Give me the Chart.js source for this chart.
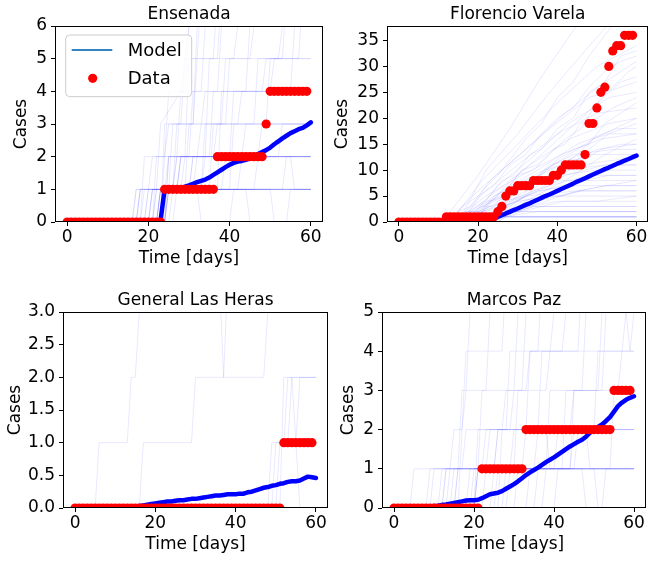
<!DOCTYPE html>
<html>
<head>
<meta charset="utf-8">
<script src="https://cdn.jsdelivr.net/npm/chart.js@4.4.0/dist/chart.umd.min.js"></script>
<style>
html,body{margin:0;padding:0;background:#ffffff;}
#wrap{position:relative;width:653px;height:561px;overflow:hidden;background:#ffffff;}
#wrap canvas{position:absolute;left:0;top:0;}
</style>
</head>
<body>
<div id="wrap">
<canvas id="c1" width="653" height="561"></canvas>
<canvas id="c2" width="653" height="561"></canvas>
<canvas id="c3" width="653" height="561"></canvas>
<canvas id="c4" width="653" height="561"></canvas>
</div>
<script>
// ---------------- DATA ----------------
const panelTitles = ['Ensenada', 'Florencio Varela', 'General Las Heras', 'Marcos Paz'];
const xTitle = 'Time [days]';
const yTitle = 'Cases';
const legendLabels = ['Model', 'Data'];

// model time axis (days 0..60)
const modelDays = [0,1,2,3,4,5,6,7,8,9,10,11,12,13,14,15,16,17,18,19,20,21,22,23,24,25,26,27,28,29,30,
  31,32,33,34,35,36,37,38,39,40,41,42,43,44,45,46,47,48,49,50,51,52,53,54,55,56,57,58,59,60];
// observed days (0..59)
const dataDays = [0,1,2,3,4,5,6,7,8,9,10,11,12,13,14,15,16,17,18,19,20,21,22,23,24,25,26,27,28,29,
  30,31,32,33,34,35,36,37,38,39,40,41,42,43,44,45,46,47,48,49,50,51,52,53,54,55,56,57,58,59];

const xTicks = [0, 20, 40, 60];
const xTickLabels = ['0', '20', '40', '60'];

// observed cumulative cases
const ensenadaData = [0,0,0,0,0,0,0,0,0,0,0,0,0,0,0,0,0,0,0,0,0,0,0,0,
  1,1,1,1,1,1,1,1,1,1,1,1,1, 2,2,2,2,2,2,2,2,2,2,2,2, 3, 4,4,4,4,4,4,4,4,4,4];
const florencioData = [0,0,0,0,0,0,0,0,0,0,0,0, 1,1,1,1,1,1,1,1,1,1,1,1,1,
  2,3,5,6,6,7,7,7,7,8,8,8,8,8,9,9,10,11,11,11,11,11,13,19,19,22,25,26,30,33,34,34,36,36,36];
const lasHerasData = [0,0,0,0,0,0,0,0,0,0,0,0,0,0,0,0,0,0,0,0,0,0,0,0,0,0,
  0,0,0,0,0,0,0,0,0,0,0,0,0,0,0,0,0,0,0,0,0,0,0,0,0,0, 1,1,1,1,1,1,1,1];
const marcosPazData = [0,0,0,0,0,0,0,0,0,0,0,0,0,0,0,0,0,0,0,0,0,0,
  1,1,1,1,1,1,1,1,1,1,1, 2,2,2,2,2,2,2,2,2,2,2,2,2,2,2,2,2,2,2,2,2,2, 3,3,3,3,3];

// model mean trajectories
const ensenadaModel = [0,0,0,0,0,0,0,0,0,0,0,0,0,0,0,0,0.01,0.01,0.02,0.02,0.03,0.03,0.04,0.05,
  1.0,1.01,1.02,1.03,1.05,1.08,1.12,1.17,1.22,1.26,1.30,1.36,1.44,1.52,1.60,1.68,1.75,1.81,1.85,1.87,
  1.90,1.95,2.01,2.08,2.14,2.20,2.28,2.38,2.47,2.56,2.64,2.72,2.78,2.84,2.88,2.96,3.05];
const florencioModel = [0,0,0,0,0,0,0,0,0,0,0,0,0.1,0.15,0.2,0.22,0.25,0.27,0.3,0.32,0.35,0.37,0.4,0.45,
  0.6,1.0,1.3,1.65,1.95,2.3,2.6,2.95,3.3,3.6,3.95,4.3,4.65,5.0,5.3,5.65,6.0,6.35,6.7,7.05,7.4,7.8,
  8.1,8.45,8.8,9.15,9.5,9.85,10.2,10.5,10.85,11.2,11.5,11.85,12.15,12.5,12.8];
const lasHerasModel = [0,0,0,0,0,0,0,0,0,0,0,0,0,0,
  0.01,0.02,0.03,0.04,0.05,0.06,0.07,0.08,0.09,0.1,
  0.1,0.11,0.12,0.12,0.13,0.14,0.14,0.15,0.16,0.17,
  0.18,0.19,0.19,0.2,0.21,0.21,0.21,0.22,0.22,0.24,
  0.25,0.27,0.29,0.31,0.32,0.34,0.35,0.37,0.38,0.4,
  0.41,0.41,0.42,0.45,0.48,0.47,0.46];
const marcosPazModel = [0,0,0,0,0,0,0,0,0,
  0.03,0.05,0.06,0.08,0.09,0.11,0.13,0.15,0.17,0.19,
  0.2,0.2,0.21,0.25,0.3,0.35,0.37,0.39,0.43,0.49,
  0.55,0.61,0.68,0.76,0.84,0.91,0.97,1.03,1.1,1.17,
  1.23,1.29,1.36,1.43,1.5,1.57,1.63,1.69,1.74,1.82,
  1.92,2.0,2.07,2.13,2.22,2.32,2.46,2.6,2.69,2.76,
  2.81,2.85];

// individual stochastic runs: [how many runs follow this path, [[day, cases], ...]]
const ensenadaRuns = [
  [8, [[0,0],[60,0]]],
  [5, [[0,0],[23,0],[24,1],[60,1]]],
  [3, [[0,0],[17,0],[18,1],[27,1],[28,2],[60,2]]],
  [1, [[0,0],[20,0],[21,1],[24,1],[25,2],[36,2],[37,3],[60,3]]],
  [2, [[0,0],[22,0],[23,1],[30,1],[31,2],[60,2]]],
  [1, [[0,0],[19,0],[20,1],[26,1],[27,3],[33,3],[34,4],[60,4]]],
  [1, [[0,0],[21,0],[22,2],[29,2],[30,5],[41,5],[42,6],[44,7]]],
  [1, [[0,0],[16,0],[17,1],[22,1],[23,3],[28,4],[30,6],[33,7]]],
  [1, [[0,0],[24,0],[25,1],[38,1],[39,2],[47,2],[48,3],[60,3]]],
  [1, [[0,0],[23,0],[24,1],[44,1],[45,0],[60,0]]],
  [1, [[0,0],[22,0],[23,1],[33,1],[34,2],[40,2],[41,4],[48,4],[49,5],[60,5]]],
  [1, [[0,0],[18,0],[19,1],[25,1],[26,3],[31,3],[32,5],[36,5],[37,7]]],
  [1, [[0,0],[24,0],[25,2],[35,2],[36,4],[44,4],[45,6],[46,7]]],
  [1, [[0,0],[23,0],[24,1],[31,1],[32,2],[52,2],[53,3],[60,3]]],
  [1, [[0,0],[20,0],[21,1],[29,1],[30,3],[39,3],[40,5],[52,5],[53,6],[54,7]]],
  [1, [[0,0],[24,0],[25,1],[46,1],[47,2],[55,2],[56,1],[60,1]]],
  [1, [[0,0],[21,0],[22,1],[37,1],[38,4],[50,4],[51,5],[57,5],[58,7]]],
  [1, [[0,0],[23,0],[24,2],[27,2],[28,4],[33,4],[34,6],[35,7]]],
  [1, [[0,0],[24,0],[25,1],[50,1],[51,0],[54,0],[55,1],[60,1]]],
  [1, [[0,0],[19,0],[20,1],[42,1],[43,2],[60,2]]],
  [1, [[0,0],[22,0],[23,1],[28,1],[29,2],[43,2],[44,3],[60,3]]],
  [1, [[0,0],[24,0],[25,1],[53,1],[54,2],[60,2]]],
  [1, [[0,0],[16,0],[17,1],[20,1],[21,2],[24,2],[25,3],[28,3],[29,5],[32,5],[33,7]]],
  [1, [[0,0],[22,0],[23,1],[26,1],[27,2],[32,2],[33,3],[38,3],[39,5],[45,5],[46,6],[47,7]]],
  [1, [[0,0],[18,0],[19,2],[24,2],[25,4],[29,4],[30,6],[31,7]]],
  [1, [[0,0],[23,0],[24,1],[35,1],[36,3],[42,3],[43,4],[55,4],[56,6],[57,7]]],
  [1, [[0,0],[25,0],[26,1],[33,1],[34,3],[46,3],[47,5],[60,5]]],
  [1, [[0,0],[20,0],[21,1],[32,1],[33,0],[40,0],[41,1],[60,1]]],
  [1, [[0,0],[24,0],[25,2],[30,2],[31,4],[37,4],[38,6],[39,7]]],
  [1, [[0,0],[21,0],[22,1],[26,1],[27,2],[34,2],[35,5],[37,5],[38,7]]],
  [1, [[0,0],[26,0],[27,1],[40,1],[41,3],[49,3],[50,5],[53,5],[54,7]]],
  [1, [[0,0],[23,0],[24,3],[31,3],[32,6],[33,7]]]
];
const florencioRuns = [
  [5, [[0,0],[60,0]]],
  [3, [[0,0],[12,0],[13,1],[60,1]]],
  [2, [[0,0],[25,0],[27,1],[60,1]]],
  [2, [[0,0],[14,0],[15,1],[26,1],[27,2],[60,2]]],
  [1, [[0,0],[23,0],[26,1],[35,2],[60,2]]],
  [2, [[0,0],[20,0],[22,1],[30,2],[34,3],[60,3]]],
  [1, [[0,0],[18,0],[25,2],[33,3],[40,4],[60,4]]],
  [1, [[0,0],[15,0],[22,2],[30,4],[38,5],[60,5]]],
  [1, [[0,0],[16,0],[24,3],[32,5],[45,6],[60,6]]],
  [1, [[0,0],[19,0],[27,3],[35,6],[44,7],[60,7]]],
  [1, [[0,0],[14,0],[23,3],[31,5],[40,8],[60,8]]],
  [1, [[0,0],[21,0],[29,4],[38,7],[48,9],[60,9]]],
  [1, [[0,0],[13,0],[21,3],[30,6],[41,9],[50,10],[60,10]]],
  [1, [[0,0],[17,0],[25,4],[33,7],[42,10],[52,11],[60,11]]],
  [1, [[0,0],[20,0],[28,3],[37,8],[46,11],[55,12],[60,12]]],
  [1, [[0,0],[12,0],[20,3],[28,6],[38,10],[48,13],[60,13]]],
  [1, [[0,0],[16,0],[24,5],[34,9],[44,13],[54,14],[60,14]]],
  [1, [[0,0],[22,0],[30,5],[40,10],[50,14],[60,15]]],
  [1, [[0,0],[13,0],[22,5],[31,9],[41,13],[51,16],[60,17]]],
  [1, [[0,0],[18,0],[26,6],[35,10],[45,15],[55,18],[60,18]]],
  [1, [[0,0],[15,0],[23,5],[33,11],[43,16],[53,19],[60,20]]],
  [1, [[0,0],[14,0],[22,6],[30,11],[40,17],[50,21],[60,22]]],
  [1, [[0,0],[17,0],[25,7],[33,12],[43,19],[53,24],[60,25]]],
  [1, [[0,0],[12,0],[20,6],[29,12],[38,18],[48,24],[60,27]]],
  [1, [[0,0],[16,0],[23,8],[32,14],[42,21],[52,27],[60,31]]],
  [1, [[0,0],[13,0],[21,8],[30,15],[40,23],[50,30],[60,34]]],
  [1, [[0,0],[15,0],[22,10],[30,17],[38,25],[47,33],[55,40]]],
  [1, [[0,0],[19,0],[27,7],[36,13],[46,20],[56,27],[60,28]]],
  [1, [[0,0],[11,0],[20,9],[28,18],[36,28],[45,38]]],
  [1, [[0,0],[21,0],[29,6],[39,11],[49,16],[60,20]]],
  [1, [[0,0],[24,0],[32,4],[42,8],[52,13],[60,16]]],
  [1, [[0,0],[23,0],[33,3],[45,6],[60,8]]],
  [1, [[0,0],[13,0],[16,1],[19,3],[22,4],[26,8],[29,9],[33,13],[36,14],[40,18],[44,20],[48,25],[52,27],[56,32],[60,33]]],
  [1, [[0,0],[15,0],[18,2],[21,2],[24,5],[27,6],[31,10],[35,11],[39,14],[42,15],[46,19],[50,20],[54,22],[60,24]]],
  [1, [[0,0],[17,0],[20,1],[24,2],[27,4],[31,5],[35,8],[39,9],[43,12],[47,12],[51,14],[56,15],[60,15]]],
  [1, [[0,0],[12,0],[15,2],[18,3],[21,6],[25,9],[28,12],[32,16],[36,19],[40,24],[44,27],[48,32],[52,36],[55,39]]],
  [1, [[0,0],[19,0],[22,1],[26,3],[30,4],[34,6],[38,7],[42,9],[47,10],[52,11],[60,11]]],
  [1, [[0,0],[14,0],[17,2],[20,2],[23,4],[27,5],[30,7],[34,8],[38,11],[43,12],[48,14],[53,17],[60,19]]],
  [1, [[0,0],[21,0],[24,2],[28,3],[32,5],[36,6],[41,7],[47,8],[53,9],[60,9]]],
  [1, [[0,0],[16,0],[19,1],[23,4],[26,5],[30,9],[34,10],[38,13],[42,16],[46,18],[50,23],[54,26],[58,29],[60,30]]],
  [1, [[0,0],[18,0],[21,2],[25,3],[29,6],[33,7],[37,10],[41,11],[45,13],[49,16],[53,17],[60,17]]],
  [1, [[0,0],[22,0],[26,2],[30,3],[35,4],[40,5],[46,6],[60,6]]],
  [1, [[0,0],[13,0],[16,3],[20,5],[24,7],[28,11],[32,13],[36,17],[40,20],[44,22],[48,26],[52,29],[56,31],[60,32]]],
  [1, [[0,0],[20,0],[23,1],[27,2],[31,4],[36,5],[41,5],[46,6],[52,7],[60,7]]],
  [1, [[0,0],[24,0],[27,1],[31,2],[36,3],[42,4],[50,4],[60,5]]],
  [1, [[0,0],[17,0],[21,3],[24,3],[28,6],[32,8],[36,9],[40,12],[44,14],[48,15],[52,19],[56,21],[60,23]]]
];
const lasHerasRuns = [
  [12, [[0,0],[60,0]]],
  [1, [[0,0],[5,0],[6,1],[13,1],[14,2],[15,2],[16,3],[17,3.5],[36,3.5],[37,2],[38,3.5],[60,3.5]]],
  [1, [[0,0],[16,0],[17,1],[29,1],[30,2],[47,2],[48,3],[49,4]]],
  [1, [[0,0],[48,0],[49,1],[52,1],[53,2],[60,2]]],
  [1, [[0,0],[50,0],[51,1],[53,1],[54,2],[55,1],[56,2],[60,2]]],
  [1, [[0,0],[49,0],[50,1],[55,1],[56,0],[60,0]]],
  [1, [[0,0],[51,0],[52,2],[60,2]]]
];
const marcosPazRuns = [
  [7, [[0,0],[60,0]]],
  [3, [[0,0],[20,0],[21,1],[60,1]]],
  [2, [[0,0],[12,0],[13,1],[60,1]]],
  [1, [[0,0],[4,0],[5,1],[14,1],[15,2],[17,2],[18,3],[19,5],[20,6]]],
  [1, [[0,0],[9,0],[10,1],[17,1],[18,2],[29,2],[30,3],[33,3],[34,4],[42,4],[43,5],[44,6]]],
  [2, [[0,0],[15,0],[16,1],[25,1],[26,2],[60,2]]],
  [1, [[0,0],[16,0],[17,2],[18,4],[27,4],[28,6]]],
  [1, [[0,0],[18,0],[19,1],[30,1],[31,3],[38,3],[39,4],[60,4]]],
  [1, [[0,0],[22,0],[23,1],[35,1],[36,2],[44,2],[45,3],[51,3],[52,5],[53,6]]],
  [1, [[0,0],[24,0],[25,1],[40,1],[41,2],[48,2],[49,1],[60,1]]],
  [1, [[0,0],[26,0],[27,2],[36,2],[37,4],[46,4],[47,6]]],
  [1, [[0,0],[28,0],[29,1],[47,1],[48,0],[52,0],[53,1],[60,1]]],
  [1, [[0,0],[30,0],[31,1],[38,1],[39,3],[56,3],[57,4],[58,5],[59,4],[60,5]]],
  [1, [[0,0],[33,0],[34,1],[45,1],[46,2],[60,2]]],
  [1, [[0,0],[19,0],[20,1],[23,1],[24,2],[33,2],[34,4],[39,4],[40,5],[41,6]]],
  [1, [[0,0],[35,0],[36,1],[54,1],[55,3],[60,3]]],
  [1, [[0,0],[14,0],[15,1],[21,1],[22,3],[32,3],[33,5],[34,6]]],
  [1, [[0,0],[40,0],[41,1],[50,1],[51,0],[60,0]]],
  [1, [[0,0],[11,0],[12,1],[16,1],[17,3],[23,3],[24,5],[25,6]]],
  [1, [[0,0],[20,0],[21,2],[28,2],[29,4],[36,4],[37,6]]],
  [1, [[0,0],[25,0],[26,1],[32,1],[33,2],[50,2],[51,4],[60,4]]],
  [1, [[0,0],[27,0],[28,1],[42,1],[43,3],[47,3],[48,5],[49,6]]],
  [1, [[0,0],[13,0],[14,1],[29,1],[30,2],[38,2],[39,1],[44,1],[45,2],[60,2]]],
  [1, [[0,0],[37,0],[38,1],[44,1],[45,3],[52,3],[53,5],[54,6]]],
  [1, [[0,0],[8,0],[9,1],[22,1],[23,2],[27,2],[28,3],[30,3],[31,5],[32,6]]]
];

// y axis ticks
const ensenadaYTicks = [0,1,2,3,4,5,6];
const ensenadaYLabels = ['0','1','2','3','4','5','6'];
const florencioYTicks = [0,5,10,15,20,25,30,35];
const florencioYLabels = ['0','5','10','15','20','25','30','35'];
const lasHerasYTicks = [0,0.5,1,1.5,2,2.5,3];
const lasHerasYLabels = ['0.0','0.5','1.0','1.5','2.0','2.5','3.0'];
const marcosPazYTicks = [0,1,2,3,4,5];
const marcosPazYLabels = ['0','1','2','3','4','5'];
const yMaxes = [6, 37.8, 3, 5];

// ---------------- RENDERING ----------------
const FONT = 'DejaVu Sans';
Chart.defaults.font.family = FONT;
Chart.defaults.color = '#000000';

const W = 653, H = 561;

const framePlugin = {
  id: 'frame',
  afterDatasetsDraw(chart) {
    const a = chart.chartArea, ctx = chart.ctx;
    ctx.save();
    ctx.strokeStyle = '#000000';
    ctx.lineWidth = 1;
    ctx.strokeRect(Math.round(a.left) + 0.5, Math.round(a.top) + 0.5,
      Math.round(a.right) - Math.round(a.left) - 1, Math.round(a.bottom) - Math.round(a.top) - 1);
    ctx.restore();
  }
};

const boxLegendPlugin = {
  id: 'boxLegend',
  afterDatasetsDraw(chart, args, opts) {
    if (!opts || !opts.show) return;
    const a = chart.chartArea, ctx = chart.ctx;
    const x = a.left + 10.7, y = a.top + 9, w = 126, h = 61.7, r = 4;
    ctx.save();
    ctx.beginPath();
    ctx.moveTo(x + r, y);
    ctx.lineTo(x + w - r, y); ctx.arcTo(x + w, y, x + w, y + r, r);
    ctx.lineTo(x + w, y + h - r); ctx.arcTo(x + w, y + h, x + w - r, y + h, r);
    ctx.lineTo(x + r, y + h); ctx.arcTo(x, y + h, x, y + h - r, r);
    ctx.lineTo(x, y + r); ctx.arcTo(x, y, x + r, y, r);
    ctx.closePath();
    ctx.fillStyle = 'rgba(255,255,255,0.8)';
    ctx.fill();
    ctx.strokeStyle = '#cccccc';
    ctx.lineWidth = 1;
    ctx.stroke();
    ctx.strokeStyle = 'rgb(52,132,196)';
    ctx.lineWidth = 2.2;
    ctx.beginPath();
    ctx.moveTo(x + 6, y + 15); ctx.lineTo(x + 46.6, y + 15);
    ctx.stroke();
    ctx.fillStyle = '#ff0000';
    ctx.beginPath();
    ctx.arc(x + 27, y + 43.3, 4.6, 0, Math.PI * 2);
    ctx.fill();
    ctx.fillStyle = '#000000';
    ctx.font = '18px "' + FONT + '"';
    ctx.textBaseline = 'middle';
    ctx.textAlign = 'left';
    ctx.fillText(opts.labels[0], x + 62, y + 16);
    ctx.fillText(opts.labels[1], x + 62, y + 44.3);
    ctx.restore();
  }
};

function makePanel(canvasId, cfg) {
  const datasets = [];
  datasets.push({
    label: legendLabels[1],
    data: cfg.dataDays.map((d, i) => ({x: d, y: cfg.data[i]})),
    showLine: false,
    pointRadius: 4.6,
    pointBackgroundColor: '#ff0000',
    pointBorderWidth: 0,
    pointHoverRadius: 0,
    clip: 0,
    order: 0
  });
  datasets.push({
    label: legendLabels[0],
    data: cfg.modelDays.map((d, i) => ({x: d, y: cfg.model[i]})),
    showLine: true,
    borderColor: '#0000ff',
    borderWidth: 4.5,
    borderCapStyle: 'round',
    borderJoinStyle: 'round',
    pointRadius: 0,
    tension: 0,
    clip: 0,
    order: 1
  });
  cfg.runs.forEach(([n, pts]) => {
    for (let k = 0; k < n; k++) {
      datasets.push({
        label: 'run',
        data: pts.map(p => ({x: p[0], y: p[1]})),
        showLine: true,
        borderColor: 'rgba(0,0,255,0.09)',
        borderWidth: 1,
        pointRadius: 0,
        tension: 0,
        clip: 0,
        order: 2
      });
    }
  });

  const L = cfg.area.L, R = cfg.area.R, T = cfg.area.T, B = cfg.area.B;
  const yBoxLeft = cfg.yTitleX - 10.2;
  const xAxisH = 47;
  const titleBoxH = 26;

  return new Chart(document.getElementById(canvasId), {
    type: 'scatter',
    data: { datasets },
    options: {
      responsive: false,
      animation: false,
      events: [],
      layout: {
        padding: { left: yBoxLeft, right: W - R, top: T - titleBoxH, bottom: H - B - xAxisH }
      },
      plugins: {
        legend: { display: false },
        tooltip: { enabled: false },
        title: {
          display: true,
          text: cfg.title,
          fullSize: false,
          color: '#000000',
          font: { family: FONT, size: 17, weight: 'normal' },
          padding: { top: 4, bottom: 1.6 }
        },
        boxLegend: { show: !!cfg.legend, labels: legendLabels }
      },
      scales: {
        x: {
          type: 'linear',
          min: -3, max: 63,
          afterBuildTicks: s => { s.ticks = xTicks.map(v => ({value: v})); },
          afterFit: s => { s.height = xAxisH; },
          ticks: {
            autoSkip: false, maxRotation: 0, minRotation: 0,
            padding: 1,
            color: '#000000',
            font: { family: FONT, size: 17 },
            callback: (v, i) => xTickLabels[i]
          },
          grid: { drawOnChartArea: false, drawTicks: true, tickLength: 4, color: '#000000', lineWidth: 1 },
          border: { display: false },
          title: { display: true, text: xTitle, color: '#000000', font: { family: FONT, size: 17 }, padding: { top: 0, bottom: 0 } }
        },
        y: {
          type: 'linear',
          min: 0, max: cfg.yMax,
          afterBuildTicks: s => { s.ticks = cfg.yTicks.map(v => ({value: v})); },
          afterFit: s => { s.width = L - yBoxLeft; },
          ticks: {
            autoSkip: false,
            padding: 4,
            color: '#000000',
            font: { family: FONT, size: 17 },
            callback: (v, i) => cfg.yLabels[i]
          },
          grid: { drawOnChartArea: false, drawTicks: true, tickLength: 4, color: '#000000', lineWidth: 1 },
          border: { display: false },
          title: { display: true, text: yTitle, color: '#000000', font: { family: FONT, size: 17 }, padding: { top: 0, bottom: 0 } }
        }
      }
    },
    plugins: [framePlugin, boxLegendPlugin]
  });
}

makePanel('c1', {
  title: panelTitles[0], area: {L: 55, R: 323, T: 26, B: 222}, yTitleX: 22,
  dataDays, data: ensenadaData, modelDays, model: ensenadaModel, runs: ensenadaRuns,
  yMax: yMaxes[0], yTicks: ensenadaYTicks, yLabels: ensenadaYLabels, legend: true
});
makePanel('c2', {
  title: panelTitles[1], area: {L: 387, R: 650, T: 26, B: 222}, yTitleX: 342.5,
  dataDays, data: florencioData, modelDays, model: florencioModel, runs: florencioRuns,
  yMax: yMaxes[1], yTicks: florencioYTicks, yLabels: florencioYLabels
});
makePanel('c3', {
  title: panelTitles[2], area: {L: 63, R: 328, T: 312, B: 508}, yTitleX: 15.5,
  dataDays, data: lasHerasData, modelDays, model: lasHerasModel, runs: lasHerasRuns,
  yMax: yMaxes[2], yTicks: lasHerasYTicks, yLabels: lasHerasYLabels
});
makePanel('c4', {
  title: panelTitles[3], area: {L: 382, R: 646, T: 312, B: 508}, yTitleX: 349,
  dataDays, data: marcosPazData, modelDays, model: marcosPazModel, runs: marcosPazRuns,
  yMax: yMaxes[3], yTicks: marcosPazYTicks, yLabels: marcosPazYLabels
});
</script>
</body>
</html>
